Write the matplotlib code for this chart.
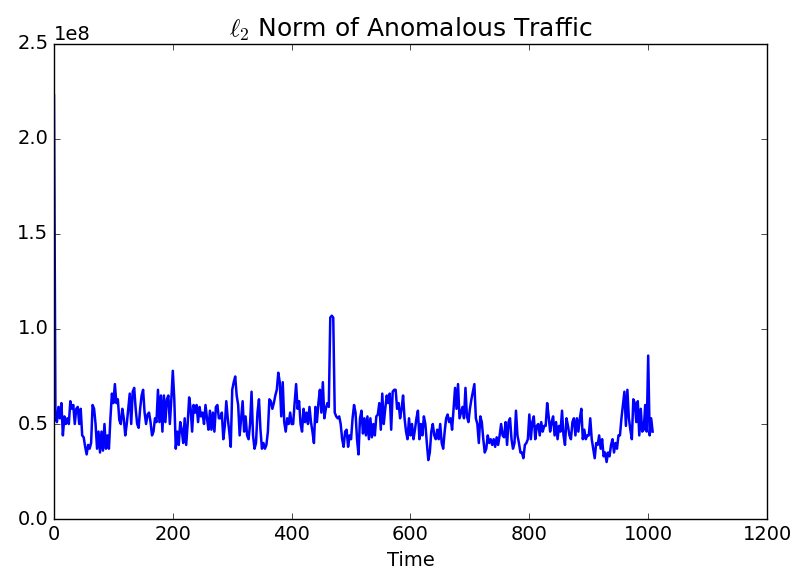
import matplotlib
matplotlib.use('Agg')
import matplotlib.pyplot as plt
import numpy as np

plt.style.use('classic')

# l2 norm of anomalous traffic, in units of 1e7, one value every 2.5 time steps
norm_1e7 = [
    22.3, 5.3, 5.1, 5.9, 5.3, 6.1, 4.4, 5.4, 5.0, 5.3,    # 0
    5.0, 6.2, 5.8, 6.0, 5.0, 5.8, 5.9, 5.0, 5.8, 4.4,     # 25
    4.3, 3.8, 3.4, 3.9, 3.7, 4.0, 6.0, 5.8, 5.0, 3.7,     # 50
    4.6, 3.5, 4.6, 3.6, 5.0, 3.7, 4.4, 3.7, 5.3, 6.6,     # 75
    6.1, 7.1, 6.1, 6.3, 5.2, 5.0, 5.8, 5.3, 4.4, 5.0,     # 100
    5.8, 6.6, 5.0, 6.7, 6.9, 5.8, 5.0, 4.8, 5.8, 6.5,     # 125
    6.8, 5.6, 5.0, 5.5, 5.6, 5.1, 4.4, 4.6, 5.3, 5.1,     # 150
    6.8, 5.1, 6.5, 4.6, 6.5, 5.1, 6.3, 6.5, 5.0, 6.3,     # 175
    7.8, 6.3, 3.7, 4.6, 3.9, 5.1, 4.7, 4.0, 5.3, 3.9,     # 200
    5.0, 6.4, 5.8, 4.6, 6.0, 5.6, 6.0, 5.1, 5.9, 5.4,     # 225
    5.6, 5.0, 6.0, 5.3, 4.7, 5.7, 4.7, 5.6, 4.6, 5.9,     # 250
    6.0, 5.3, 5.3, 5.6, 4.2, 4.9, 6.2, 5.3, 4.6, 3.8,     # 275
    6.8, 7.2, 7.5, 6.5, 6.0, 4.4, 5.3, 6.2, 4.6, 5.4,     # 300
    4.4, 4.2, 5.0, 6.7, 4.4, 3.7, 4.0, 5.6, 6.3, 4.7,     # 325
    3.7, 4.0, 3.7, 3.9, 4.6, 6.3, 6.2, 5.8, 6.1, 6.5,     # 350
    6.8, 7.7, 7.2, 5.4, 7.2, 5.1, 4.6, 5.3, 5.0, 5.6,     # 375
    5.0, 5.0, 6.1, 7.1, 5.8, 6.2, 5.0, 4.6, 5.8, 5.1,     # 400
    5.6, 5.0, 5.9, 5.1, 4.6, 4.0, 5.9, 5.1, 6.1, 6.8,     # 425
    5.6, 7.2, 5.3, 5.8, 6.1, 5.9, 10.6, 10.7, 10.6, 5.6,  # 450
    5.4, 5.3, 5.4, 5.0, 4.2, 3.8, 4.6, 4.7, 3.8, 4.4,     # 475
    4.2, 5.3, 6.0, 5.6, 4.2, 3.4, 5.3, 5.7, 4.5, 5.3,     # 500
    4.4, 5.4, 4.2, 5.3, 4.3, 5.0, 4.4, 5.4, 5.5, 6.1,     # 525
    4.7, 6.6, 5.0, 5.8, 6.5, 6.1, 6.6, 4.7, 6.7, 6.8,     # 550
    6.8, 5.8, 6.1, 5.3, 5.8, 6.5, 5.3, 4.6, 4.2, 5.3,     # 575
    4.4, 5.0, 4.2, 4.7, 5.3, 5.7, 4.2, 5.0, 4.4, 5.4,     # 600
    5.0, 4.0, 3.1, 3.5, 4.6, 5.0, 4.4, 4.2, 4.7, 4.2,     # 625
    5.0, 4.0, 3.7, 4.6, 5.3, 5.5, 5.1, 5.3, 4.7, 5.8,     # 650
    6.9, 5.8, 7.1, 5.3, 5.6, 5.9, 5.3, 6.9, 5.4, 5.1,     # 675
    5.8, 6.3, 6.7, 7.1, 5.3, 5.0, 4.0, 5.4, 5.1, 4.2,     # 700
    3.5, 3.7, 4.4, 4.0, 4.2, 3.9, 4.2, 3.8, 4.3, 3.9,     # 725
    4.4, 5.0, 4.4, 4.3, 5.1, 3.9, 5.1, 5.3, 4.2, 3.7,     # 750
    4.0, 5.7, 4.4, 4.0, 3.5, 3.5, 3.2, 3.9, 4.0, 4.2,     # 775
    5.5, 4.2, 5.1, 5.4, 4.2, 4.9, 5.0, 4.4, 5.1, 4.6,     # 800
    4.9, 4.9, 6.1, 5.4, 4.6, 5.1, 5.4, 4.4, 5.1, 4.2,     # 825
    4.9, 4.6, 5.7, 4.4, 3.9, 5.3, 4.9, 4.4, 4.2, 5.1,     # 850
    5.3, 4.4, 5.3, 4.6, 5.3, 5.8, 4.2, 4.7, 4.2, 4.4,     # 875
    4.4, 5.3, 4.2, 3.7, 3.2, 4.0, 3.9, 4.4, 3.7, 4.2,     # 900
    3.3, 3.5, 3.0, 3.5, 3.3, 3.9, 4.2, 3.5, 4.0, 3.7,     # 925
    4.4, 4.4, 5.3, 6.0, 6.7, 4.9, 6.8, 5.3, 4.7, 4.2,     # 950
    6.3, 6.1, 5.1, 6.2, 4.4, 5.8, 4.6, 4.7, 6.0, 4.6,     # 975
    8.6, 4.4, 5.3, 4.6,                                   # 1000
]
time_step = 2.5

times = np.arange(len(norm_1e7)) * time_step
norm = np.array(norm_1e7) * 1e7

fig = plt.figure(figsize=(7.96, 5.81), dpi=100)
ax = fig.add_axes([0.0678, 0.1067, 0.8958, 0.8176])
ax.plot(times, norm, color='b', linewidth=1.8)

ax.set_xlim(0, 1200)
ax.set_ylim(0, 2.5e8)
ax.set_xlabel('Time', fontsize=14)
ax.set_title(r'$\ell_2$ Norm of Anomalous Traffic', fontsize=18)
ax.tick_params(labelsize=14)
ax.yaxis.get_offset_text().set_fontsize(14)

fig.savefig('out.png', dpi=100)
